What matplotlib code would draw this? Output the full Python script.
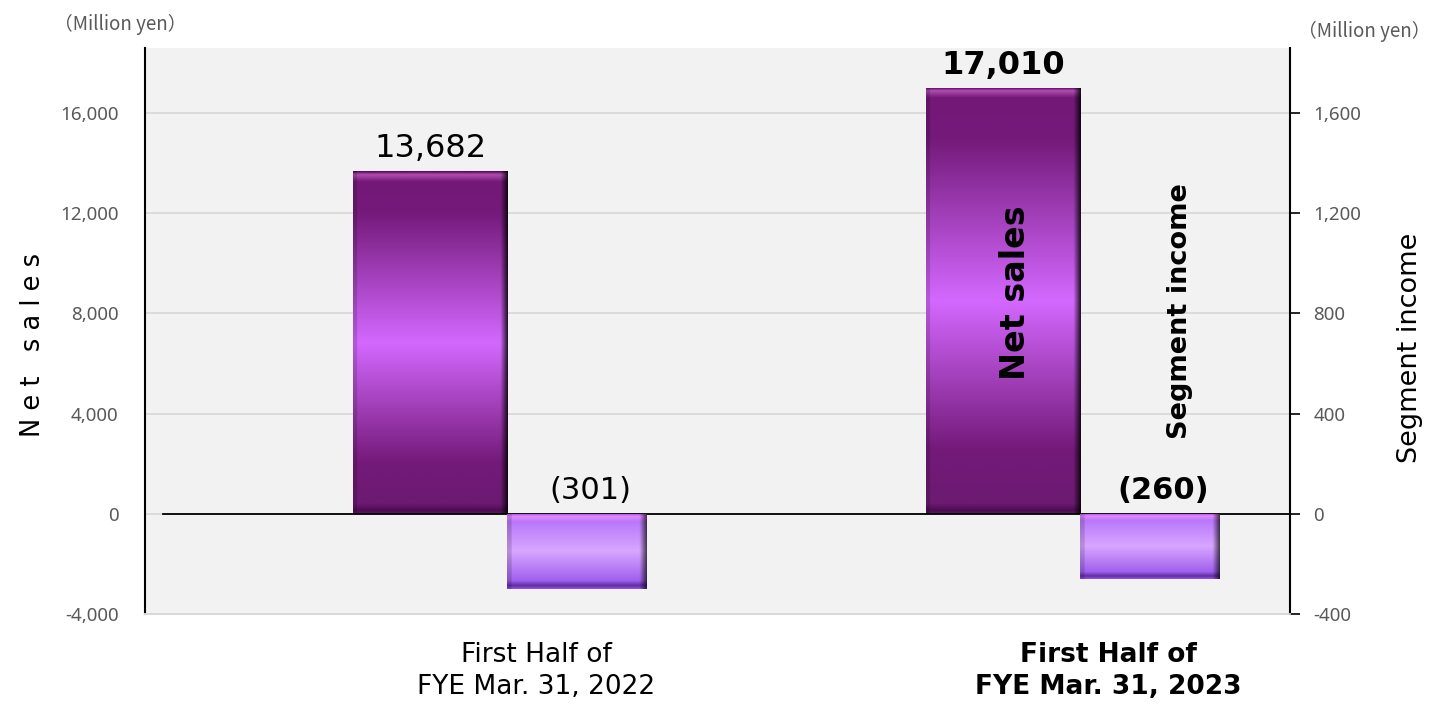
import numpy as np
import matplotlib
matplotlib.use("Agg")
import matplotlib.pyplot as plt
import matplotlib.colors as mcolors

# data
periods = ["First Half of\nFYE Mar. 31, 2022", "First Half of\nFYE Mar. 31, 2023"]
net_sales = [13682, 17010]
segment_income = [-301, -260]
sales_labels = ["13,682", "17,010"]
income_labels = ["(301)", "(260)"]
left_ticks = [-4000, 0, 4000, 8000, 12000, 16000]
right_ticks = [-400, 0, 400, 800, 1200, 1600]

plt.rcParams['font.family'] = ['DejaVu Sans']

fig = plt.figure(figsize=(14.3, 7.07), dpi=100)
ax = fig.add_axes([145/1430, 1-614/707, 1145/1430, 566/707])
ax2 = ax.twinx()
ax.set_facecolor("#f2f2f2")
ax2.patch.set_visible(False)

ax.set_xlim(-0.5, 1.5)
ax.set_ylim(-4000, 18600)
ax2.set_ylim(-400, 1860)

x = np.arange(len(periods))

sales_stops = lambda b: [(0, "#5a0a60"), (b*0.3, "#b050b0"), (b, "#741878"), (0.12, "#741a7a"),
                         (0.5, "#d468ff"), (0.85, "#741a7a"),
                         (1-b, "#6c1a72"), (1-b*0.3, "#4c0c50"), (1, "#5a1a60")]
income_stops = lambda b: [(0, "#9448e8"), (b*0.4, "#e888ff"), (b, "#b878fa"), (0.5, "#d8a6ff"),
                          (1-b, "#a060ee"), (1-b*0.4, "#5e2ea0"), (1, "#9a50f0")]


def gradient_fill(axis, bar, stops_fn, right_dark):
    x0, y0 = bar.get_xy()
    w, h = bar.get_width(), bar.get_height()
    p0 = axis.transData.transform((x0, y0))
    p1 = axis.transData.transform((x0 + w, y0 + h))
    hpx = abs(p1[1] - p0[1])
    wpx = abs(p1[0] - p0[0])
    b = min(10.0 / hpx, 0.11)
    stops = stops_fn(b)
    pos = np.array([s[0] for s in stops])
    cols = np.array([mcolors.to_rgb(s[1]) for s in stops])
    ny, nx = 300, 150
    t = np.linspace(0, 1, ny)
    vert = np.stack([np.interp(t, pos, cols[:, k]) for k in range(3)], axis=1)
    u = np.linspace(0, 1, nx)
    bw = 7.0 / wpx
    mult = np.ones(nx)
    mult = np.where(u > 1 - bw, 1 - (1 - right_dark) * (u - (1 - bw)) / bw, mult)
    mult = np.where(u < 4.0 / wpx, 0.85, mult)
    img = vert[:, None, :] * mult[None, :, None]
    ymin, ymax = min(y0, y0 + h), max(y0, y0 + h)
    im = axis.imshow(img, extent=(x0, x0 + w, ymin, ymax), origin="upper",
                     aspect="auto", zorder=3, interpolation="bilinear")
    im.set_clip_path(bar)


# gridlines and zero line
for v in left_ticks[2:]:
    ax.axhline(v, color="#d9d9d9", lw=1.3, zorder=1)
ax.axhline(0, color="#d9d9d9", lw=1.3, zorder=1)
ax.axhline(0, xmin=18/1145, xmax=1, color="black", lw=1.3, zorder=4)

sales_bars = ax.bar(x - 0.136, net_sales, width=0.269, align="edge",
                    facecolor="none", edgecolor="none", zorder=3)
income_bars = ax2.bar(x + 0.133, segment_income, width=0.243, align="edge",
                      facecolor="none", edgecolor="none", zorder=3)

fig.canvas.draw()
for bar in sales_bars:
    gradient_fill(ax, bar, sales_stops, 0.2)
for bar in income_bars:
    gradient_fill(ax2, bar, income_stops, 0.35)

ax.set_xlim(-0.5, 1.5)
ax.set_ylim(-4000, 18600)
ax2.set_ylim(-400, 1860)

# value labels
for i, bar in enumerate(sales_bars):
    ax.annotate(sales_labels[i], (bar.get_x() + bar.get_width()/2, bar.get_height()),
                xytext=(0, 5), textcoords="offset points", ha="center", va="bottom",
                fontsize=23, fontweight="bold" if i == 1 else "normal", zorder=5)
for i, bar in enumerate(income_bars):
    ax2.annotate(income_labels[i], (bar.get_x() + bar.get_width()/2, 0),
                 xytext=(10, 6), textcoords="offset points", ha="center", va="bottom",
                 fontsize=22, fontweight="bold" if i == 1 else "normal", zorder=5)

# in-plot legend-like labels
ax.text(x[1] + 0.02, 8836, "Net sales", rotation=90, ha="center", va="center",
        fontsize=24, fontweight="bold", zorder=6)
ax.text(x[1] + 0.307, 8080, "Segment income", rotation=90, ha="center", va="center",
        fontsize=19.5, fontweight="bold", zorder=6)

# axes styling
ax.set_xticks(x + 0.183)
ax.set_xticklabels(periods, fontsize=19, linespacing=1.3)
ax.get_xticklabels()[1].set_fontweight("bold")
ax.tick_params(axis="x", length=0, pad=20)

ax.set_yticks(left_ticks)
ax.set_yticklabels([f"{v:,}" for v in left_ticks], family="Noto Sans", fontsize=13.5, color="#595959")
ax.tick_params(axis="y", length=0, pad=19)
ax2.set_yticks(right_ticks)
ax2.set_yticklabels([f"{v:,}" for v in right_ticks], family="Noto Sans", fontsize=13.5, color="#595959")
ax2.tick_params(axis="y", length=7, width=1.2, direction="out", pad=10)

for a in (ax, ax2):
    a.spines["top"].set_visible(False)
    a.spines["bottom"].set_color("#d9d9d9")
    a.spines["bottom"].set_linewidth(1.3)
ax.spines["left"].set_linewidth(1.5)
ax.spines["right"].set_visible(False)
ax2.spines["left"].set_visible(False)
ax2.spines["right"].set_linewidth(1.5)

fig.text(120/1430, 1-24/707, "（Million yen）", ha="center", va="center",
         family=["Noto Sans CJK JP", "DejaVu Sans"], fontsize=13.5, color="#595959")
fig.text(1364/1430, 1-31/707, "（Million yen）", ha="center", va="center",
         family=["Noto Sans CJK JP", "DejaVu Sans"], fontsize=13.5, color="#595959")
fig.text(33/1430, 1-345/707, "N e t   s a l e s", rotation=90, ha="center", va="center",
         fontsize=18.5)
fig.text(1410/1430, 1-348/707, "Segment income", rotation=90, ha="center", va="center",
         fontsize=19.5)

fig.savefig("out.png", dpi=100)
